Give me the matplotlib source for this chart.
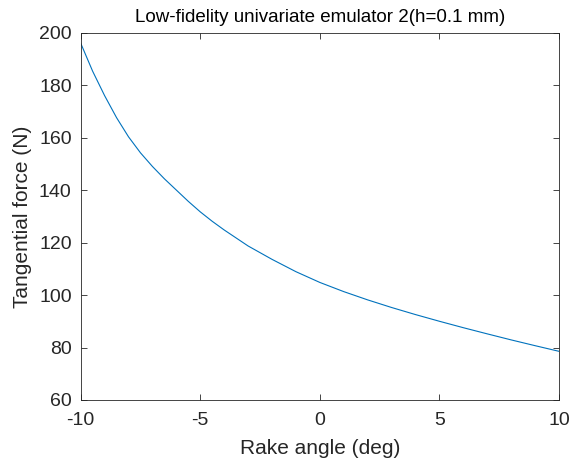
import numpy as np
import matplotlib
matplotlib.use('Agg')
import matplotlib.pyplot as plt

# values
rake_angle = [-10, -9.5, -9, -8.5, -8, -7.5, -7, -6.5, -6, -5.5, -5, -4.5, -4,
              -3, -2, -1, 0, 1, 2, 3, 4, 5, 6, 7, 8, 9, 10]
tangential_force = [196.0, 185.3, 176.0, 167.6, 160.3, 154.2, 149.0, 144.3, 140.0,
                    135.7, 131.7, 128.1, 124.8, 118.7, 113.6, 108.9, 104.8,
                    101.3, 98.15, 95.25, 92.55, 90.0, 87.55, 85.2, 82.9, 80.7, 78.55]
x_ticks = [-10, -5, 0, 5, 10]
y_ticks = [60, 80, 100, 120, 140, 160, 180, 200]

plt.rcParams['font.family'] = ['Liberation Sans', 'DejaVu Sans']
plt.rcParams['axes.unicode_minus'] = False
txt = '#262626'

fig = plt.figure(figsize=(5.73, 4.65), dpi=100)
ax = fig.add_axes([0.1408, 0.1398, 0.8348, 0.79])
ax.plot(rake_angle, tangential_force, color='#0072BD', linewidth=0.8)

ax.set_xlim(-10, 10)
ax.set_ylim(60, 200)
ax.set_xticks(x_ticks)
ax.set_yticks(y_ticks)
ax.tick_params(direction='in', top=True, right=True, length=4, width=0.6,
               labelsize=14, colors=txt)
ax.tick_params(axis='x', pad=8.5)
ax.tick_params(axis='y', pad=6.5)
for s in ax.spines.values():
    s.set_color(txt)
    s.set_linewidth(0.6)

ax.set_xlabel('Rake angle (deg)', fontsize=15, color=txt, labelpad=7)
ax.set_ylabel('Tangential force (N)', fontsize=15, color=txt, labelpad=5)
ax.set_title('Low-fidelity univariate emulator 2(h=0.1 mm)', fontsize=13.5, color='k', pad=7.5)

plt.savefig('out.png', dpi=100)
